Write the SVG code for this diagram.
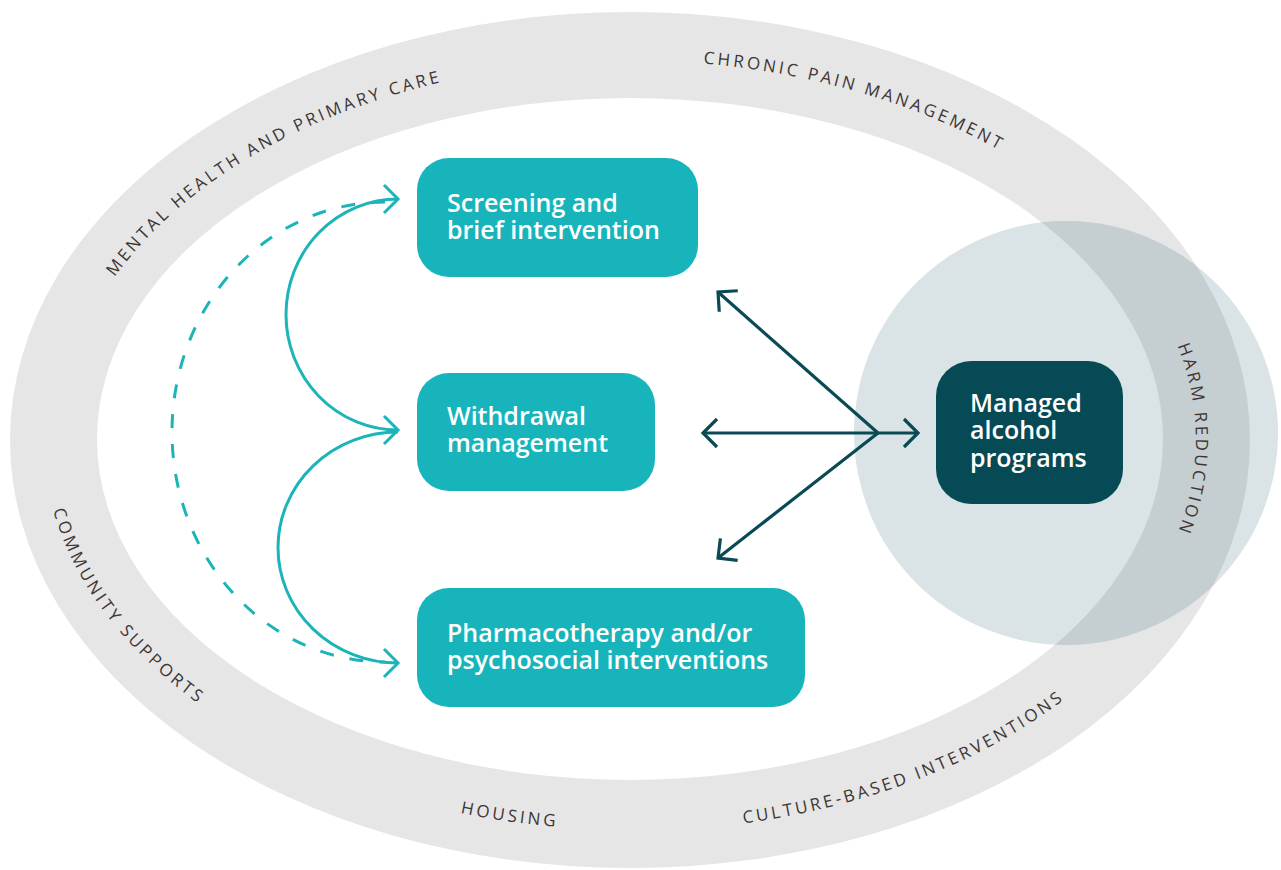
<svg xmlns="http://www.w3.org/2000/svg" width="1281" height="870" viewBox="0 0 1281 870">
  <style>
    .ring { fill: #e6e6e6; fill-rule: evenodd; }
    .lbl { font-family: "Open Sans", "Liberation Sans", sans-serif; font-size: 17px; letter-spacing: 3.1px; fill: #3f3533; }
    .box { fill: #17b5bb; }
    .dbox { fill: #064a55; }
    .btxt { font-family: "Open Sans", "Liberation Sans", sans-serif; font-size: 25px; font-weight: 600; fill: #ffffff; }
    .teal { fill: none; stroke: #1ab4b9; stroke-width: 3; }
    .dash { stroke-dasharray: 14 16; }
    .dark { fill: none; stroke: #0a4a55; stroke-width: 3.2; }
  </style>
  <defs>
    <marker id="tealHead" markerUnits="userSpaceOnUse" viewBox="-16 -16 20 32" refX="0" refY="0" markerWidth="20" markerHeight="32" orient="auto-start-reverse" overflow="visible">
      <path d="M -14 -14 L 0 0 L -14 14" fill="none" stroke="#1ab4b9" stroke-width="3"/>
    </marker>
    <marker id="darkHead" markerUnits="userSpaceOnUse" viewBox="-18 -18 22 36" refX="0" refY="0" markerWidth="22" markerHeight="36" orient="auto" overflow="visible">
      <path d="M -14 -14 L 0 0 L -14 14" fill="none" stroke="#0a4a55" stroke-width="3.2"/>
    </marker>
    <path id="ringPath" d="M 10 440 A 620 428 0 1 0 1250 440 A 620 428 0 1 0 10 440 Z M 97 439 A 533 341 0 1 0 1163 439 A 533 341 0 1 0 97 439 Z"/>
    <clipPath id="circleClip">
      <circle cx="1066" cy="433" r="212"/>
    </clipPath>
    <path id="p1" d="M 84.4 328.8 A 570.5 378.5 0 0 1 501.6 70.7"/>
    <path id="p2" d="M 580 62 A 570.5 378.5 0 0 1 1100 224"/>
    <path id="p3" d="M 1120 253.5 A 566 372 0 0 1 1120 625.5"/>
    <path id="p4" d="M 46 400 A 582.5 390.5 0 0 0 296 760"/>
    <path id="p5" d="M 233.5 725.5 A 582.5 390.5 0 0 0 801.3 812.7"/>
    <path id="p6" d="M 640 831 A 582.5 390.5 0 0 0 1140 627"/>
  </defs>

  <g id="background">
    <use href="#ringPath" class="ring"/>
    <circle cx="1066" cy="433" r="212" fill="#dae3e5"/>
    <use href="#ringPath" fill="#c5ced1" fill-rule="evenodd" clip-path="url(#circleClip)"/>
  </g>

  <g id="ring-labels">
    <text class="lbl" text-anchor="middle"><textPath href="#p1" startOffset="50%">MENTAL HEALTH AND PRIMARY CARE</textPath></text>
    <text class="lbl" text-anchor="middle"><textPath href="#p2" startOffset="50%">CHRONIC PAIN MANAGEMENT</textPath></text>
    <text class="lbl" text-anchor="middle"><textPath href="#p3" startOffset="50%">HARM REDUCTION</textPath></text>
    <text class="lbl" text-anchor="middle"><textPath href="#p4" startOffset="50%">COMMUNITY SUPPORTS</textPath></text>
    <text class="lbl" text-anchor="middle"><textPath href="#p5" startOffset="50%">HOUSING</textPath></text>
    <text class="lbl" text-anchor="middle"><textPath href="#p6" startOffset="50%">CULTURE-BASED INTERVENTIONS</textPath></text>
  </g>

  <g id="connectors">
    <path class="teal dash" d="M 385 202 A 213 230 0 0 0 385 662"/>
    <path class="teal" d="M 398 199 A 112 115.5 0 0 0 398 430" marker-start="url(#tealHead)" marker-end="url(#tealHead)"/>
    <path class="teal" d="M 398 432 A 120 115.5 0 0 0 398 663" marker-end="url(#tealHead)"/>
    <line class="dark" x1="878" y1="433" x2="718" y2="292" marker-end="url(#darkHead)"/>
    <line class="dark" x1="878" y1="433" x2="703" y2="433" marker-end="url(#darkHead)"/>
    <line class="dark" x1="878" y1="433" x2="718" y2="558" marker-end="url(#darkHead)"/>
    <line class="dark" x1="878" y1="433" x2="918" y2="433" marker-end="url(#darkHead)"/>
  </g>

  <g id="screening">
    <rect class="box" x="417" y="158" width="281" height="119" rx="32"/>
    <text class="btxt" x="447" y="212">Screening and</text>
    <text class="btxt" x="447" y="239">brief intervention</text>
  </g>
  <g id="withdrawal">
    <rect class="box" x="417" y="373" width="238" height="118" rx="32"/>
    <text class="btxt" x="447" y="425">Withdrawal</text>
    <text class="btxt" x="447" y="452">management</text>
  </g>
  <g id="pharmacotherapy">
    <rect class="box" x="417" y="588" width="388" height="119" rx="32"/>
    <text class="btxt" x="447" y="642">Pharmacotherapy and/or</text>
    <text class="btxt" x="447" y="669">psychosocial interventions</text>
  </g>
  <g id="managed-alcohol">
    <rect class="dbox" x="936" y="361" width="187" height="143" rx="35"/>
    <text class="btxt" x="970" y="412">Managed</text>
    <text class="btxt" x="970" y="439">alcohol</text>
    <text class="btxt" x="970" y="467">programs</text>
  </g>
</svg>
